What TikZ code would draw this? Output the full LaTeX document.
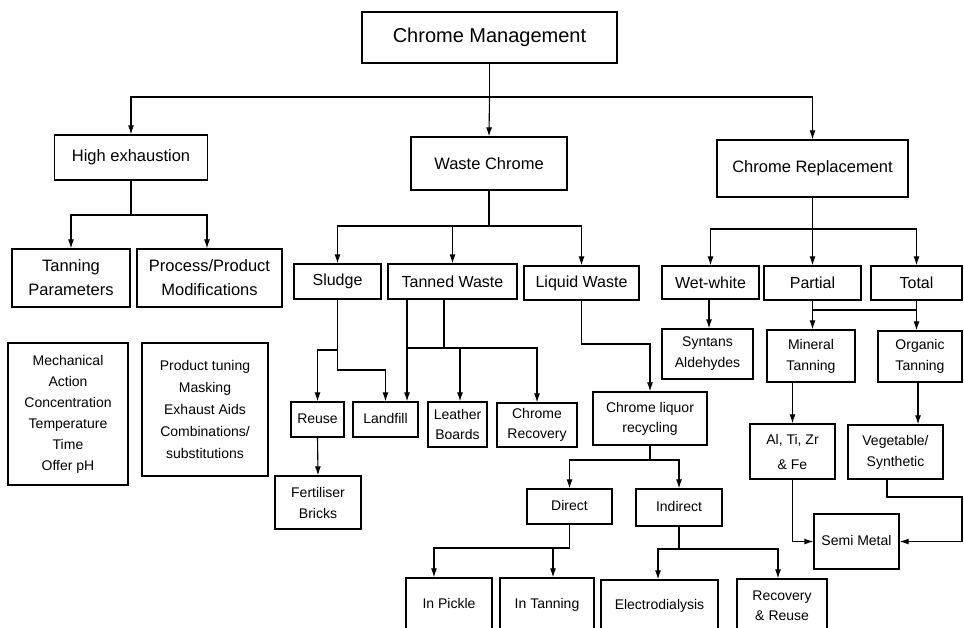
\documentclass[tikz,border=0pt]{standalone}
\usepackage{fontspec}
\setmainfont{Liberation Sans}
\usetikzlibrary{arrows.meta,calc}
\tikzset{
  box/.style={draw, line width=1.3pt, inner sep=0pt, align=center},
  conn/.style={line width=1.1pt},
  arr/.style={conn, -{Latex[length=9pt,width=6pt]}},
  fA/.style={font=\fontsize{20}{24}\selectfont},
  fB/.style={font=\fontsize{16.5}{24}\selectfont},
  fC/.style={font=\fontsize{14}{21}\selectfont},
  one/.style={text height=10pt, text depth=3pt},
}
\begin{document}
\begin{tikzpicture}[x=1pt,y=-1pt]
\useasboundingbox (0,0) rectangle (964,627);
\clip (0,0) rectangle (964,627);
% level 0
\node[box,fA,minimum width=255pt,minimum height=51pt] (cm) at (489.5,37.5) {Chrome Management};
% level 1
\node[box,fB,minimum width=153pt,minimum height=45pt] (he) at (131,157.5) {High exhaustion};
\node[box,fB,minimum width=156pt,minimum height=53pt] (wc) at (489,163.5) {Waste Chrome};
\node[box,fB,minimum width=191pt,minimum height=57pt] (cr) at (812.5,168.5) {Chrome Replacement};
% high exhaustion branch
\node[box,fB,minimum width=118pt,minimum height=58pt] (tp) at (71,278) {Tanning\\Parameters};
\node[box,fB,minimum width=145pt,minimum height=58pt] (pp) at (209.5,278) {Process/Product\\Modifications};
\node[box,fC,minimum width=120pt,minimum height=142pt] (mech) at (68,414) {Mechanical\\Action\\Concentration\\Temperature\\Time\\Offer pH};
\node[box,fC,font=\fontsize{14}{22}\selectfont,minimum width=126pt,minimum height=133pt] (prod) at (205,409.5) {Product tuning\\Masking\\Exhaust Aids\\Combinations/\\substitutions};
% waste chrome branch
\node[box,fB,font=\fontsize{16}{20}\selectfont,minimum width=87pt,minimum height=35pt] (sl) at (337.5,281.5) {Sludge};
\node[box,fB,font=\fontsize{16}{20}\selectfont,minimum width=129pt,minimum height=35pt] (tw) at (452.5,281.5) {Tanned Waste};
\node[box,fB,font=\fontsize{16}{20}\selectfont,minimum width=115pt,minimum height=34pt] (lw) at (581.5,283) {Liquid Waste};
\node[box,fC,one,minimum width=53pt,minimum height=35pt] (re) at (317.5,419.5) {Reuse};
\node[box,fC,one,minimum width=65pt,minimum height=35pt] (lf) at (385.5,419.5) {Landfill};
\node[box,fC,font=\fontsize{14}{20}\selectfont,minimum width=59pt,minimum height=45pt] (lb) at (457.5,424.5) {Leather\\Boards};
\node[box,fC,font=\fontsize{14}{20}\selectfont,minimum width=80pt,minimum height=44pt] (crec) at (537,425) {Chrome\\Recovery};
\node[box,fC,font=\fontsize{14}{20}\selectfont,minimum width=114pt,minimum height=53pt] (clr) at (650,418.5) {Chrome liquor\\recycling};
\node[box,fC,minimum width=86pt,minimum height=53pt] (fb) at (318,502.5) {Fertiliser\\Bricks};
\node[box,fC,one,minimum width=85pt,minimum height=35pt] (di) at (569.5,506.5) {Direct};
\node[box,fC,one,minimum width=86pt,minimum height=37pt] (in) at (679,507.5) {Indirect};
\node[box,fC,one,minimum width=86pt,minimum height=54pt] (ip) at (449,605) {In Pickle};
\node[box,fC,one,minimum width=94pt,minimum height=54pt] (it) at (547,605) {In Tanning};
\node[box,fC,one,minimum width=117pt,minimum height=52pt] (ed) at (659.5,606) {Electrodialysis};
\node[box,fC,font=\fontsize{14}{20}\selectfont,minimum width=90pt,minimum height=54pt] (rr) at (782,606) {Recovery\\\&\hspace{0.3em}Reuse};
% chrome replacement branch
\node[box,fB,font=\fontsize{16}{20}\selectfont,minimum width=97pt,minimum height=33pt] (ww) at (710.5,282.5) {Wet-white};
\node[box,fB,font=\fontsize{16}{20}\selectfont,minimum width=97pt,minimum height=34pt] (pa) at (812.5,283) {Partial};
\node[box,fB,font=\fontsize{16}{20}\selectfont,minimum width=91pt,minimum height=34pt] (to) at (916.5,283) {Total};
\node[box,fC,minimum width=91pt,minimum height=50pt] (sa) at (707.5,354) {Syntans\\Aldehydes};
\node[box,fC,minimum width=88pt,minimum height=52pt] (mt) at (811,356) {Mineral\\Tanning};
\node[box,fC,minimum width=84pt,minimum height=51pt] (ot) at (920,356.5) {Organic\\Tanning};
\node[box,fC,font=\fontsize{14}{25}\selectfont,minimum width=85pt,minimum height=55pt] (al) at (792.5,451.5) {Al, Ti, Zr\\\& Fe};
\node[box,fC,minimum width=95pt,minimum height=54pt] (vs) at (895.5,452) {Vegetable/\\Synthetic};
\node[box,fC,one,minimum width=85pt,minimum height=55pt] (sm) at (856.5,541.5) {Semi Metal};
% junction coordinates
\coordinate (j1) at (489.5,97);
\coordinate (j2) at (131,215);
\coordinate (j3) at (489,226);
\coordinate (j4) at (812.5,229);
\coordinate (j5) at (337.5,350);
\coordinate (j6) at (337.5,370);
\coordinate (j7) at (444,348);
\coordinate (j8) at (581.5,344);
\coordinate (j9) at (650,460);
\coordinate (j10) at (569.5,548);
\coordinate (j11) at (679,549);
\coordinate (j12) at (812.5,310);
\coordinate (j13) at (916.5,310);
\coordinate (j14) at (962,497);
% connectors level 0 -> 1
\draw[conn] (cm.south) -- (j1);
\draw[arr] (j1) -| (he.north);
\draw[arr] (j1) -- (wc.north);
\draw[arr] (j1) -| (cr.north);
% high exhaustion
\draw[conn] (he.south) -- (j2);
\draw[arr] (j2) -| (tp.north);
\draw[arr] (j2) -| ([xshift=-2.5pt]pp.north);
% waste chrome
\draw[conn] (wc.south) -- (j3);
\draw[arr] (j3) -| (sl.north);
\draw[arr] (j3) -| (tw.north);
\draw[arr] (j3) -| (lw.north);
\draw[conn] (sl.south) -- (j5);
\draw[arr] (j5) -| (re.north);
\draw[arr] (j5) -- (j6) -| (lf.north);
\draw[arr] ([xshift=-45.5pt]tw.south) -- ([xshift=21.5pt]lf.north);
\draw[conn] ([xshift=-8.5pt]tw.south) -- (j7);
\draw[conn] (j7) -- ++(-37,0);
\draw[arr] (j7) -| ([xshift=2.5pt]lb.north);
\draw[arr] (j7) -| (crec.north);
\draw[arr] (lw.south) -- (j8) -| (clr.north);
\draw[arr] (re.south) -- (fb.north);
\draw[conn] (clr.south) -- (j9);
\draw[arr] (j9) -| (di.north);
\draw[arr] (j9) -| (in.north);
\draw[conn] (di.south) -- (j10);
\draw[arr] (j10) -| ([xshift=-15pt]ip.north);
\draw[arr] (j10) -| ([xshift=6pt]it.north);
\draw[conn] (in.south) -- (j11);
\draw[arr] (j11) -| ([xshift=-1.5pt]ed.north);
\draw[arr] (j11) -| ([xshift=-4pt]rr.north);
% chrome replacement
\draw[conn] (cr.south) -- (j4);
\draw[arr] (j4) -| (ww.north);
\draw[arr] (j4) -- (pa.north);
\draw[arr] (j4) -| (to.north);
\draw[arr] ([xshift=-1.5pt]ww.south) -- ([xshift=1.5pt]sa.north);
\draw[arr] (pa.south) -- ([xshift=1.5pt]mt.north);
\draw[arr] (to.south) -- ([xshift=-3.5pt]ot.north);
\draw[conn] (j12) -- (j13);
\draw[arr] ([xshift=-18.5pt]mt.south) -- (al.north);
\draw[arr] ([xshift=-2pt]ot.south) -- ([xshift=22.5pt]vs.north);
\draw[arr] (al.south) |- (sm.west);
\draw[arr] ([xshift=-8.5pt]vs.south) |- (j14) |- (sm.east);
\end{tikzpicture}
\end{document}
